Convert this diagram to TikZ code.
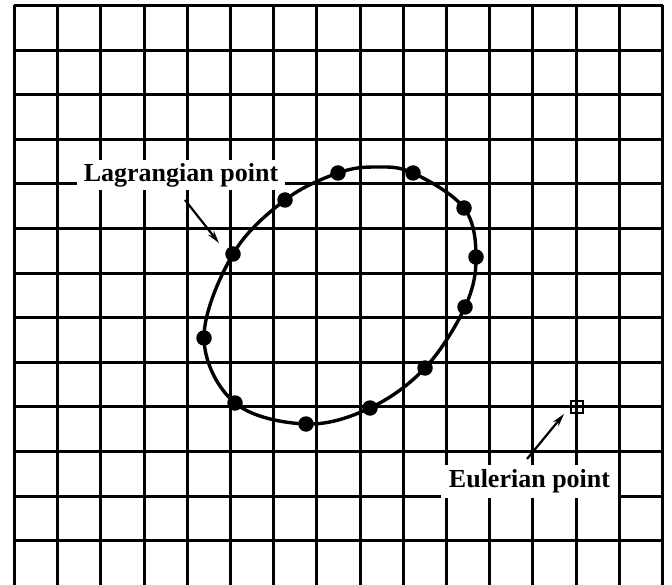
\documentclass[tikz,border=0pt]{standalone}
\usepackage{fontspec}
\setmainfont{Liberation Serif}
\usetikzlibrary{arrows.meta}
\begin{document}
\begin{tikzpicture}[x=1pt,y=-1pt,
  gridline/.style={line width=2.6pt,black},
  curveline/.style={line width=3.4pt,black},
  lagdot/.style={circle,fill=black,inner sep=0pt,minimum size=15.5pt},
  labelbox/.style={fill=white,inner sep=0pt,font=\fontsize{26}{28}\selectfont\bfseries},
  pointer/.style={line width=2.2pt,-{Stealth[length=13pt,width=7pt]}},
  eulerbox/.style={draw=black,line width=2pt,inner sep=0pt,minimum size=12pt}
]
\useasboundingbox (0,0) rectangle (672,585);
% grid
\foreach \k in {0,...,15} \draw[gridline] ({round(14+43.2*\k)+0.5},5) -- ({round(14+43.2*\k)+0.5},585);
\foreach \j in {0,...,12} \draw[gridline] (14,{round(5+44.6*\j)+0.5}) -- (663,{round(5+44.6*\j)+0.5});
% closed curve through the Lagrangian points
\draw[curveline,line join=round] plot[smooth cycle,tension=0.6] coordinates {
  (338,173) (376,167) (413,173) (464,208) (476,257)
  (465,307) (425,368) (370,408) (306,424)
  (235,403) (204,338) (233,254) (285,200)};
% Lagrangian points
\foreach \p/\n in {{(338,173)}/1,{(413,173)}/2,{(464,208)}/3,{(476,257)}/4,{(465,307)}/5,{(425,368)}/6,
  {(370,408)}/7,{(306,424)}/8,{(235,403)}/9,{(204,338)}/10,{(233,254)}/11,{(285,200)}/12}
  \node[lagdot] (L\n) at \p {};
% Eulerian point
\node[eulerbox] (E) at (576.5,406.5) {};
% labels
\node[labelbox,minimum width=208pt,minimum height=30pt] (lablag) at (181,175) {Lagrangian point};
\node[labelbox,minimum width=177pt,minimum height=33pt] (labeul) at (529.5,481.5) {Eulerian point};
% pointers
\coordinate (lagstart) at (185,200);
\coordinate (lagend) at (219,243);
\coordinate (eulstart) at (527,459);
\coordinate (eulend) at (564,414);
\draw[pointer] (lagstart) -- (lagend);
\draw[pointer] (eulstart) -- (eulend);
\end{tikzpicture}
\end{document}
